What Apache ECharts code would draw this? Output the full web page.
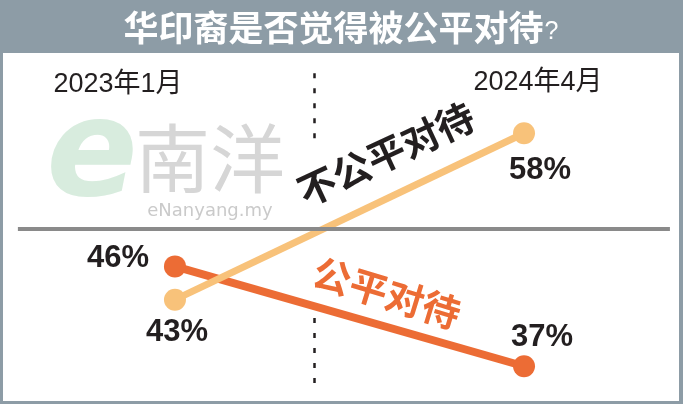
<!DOCTYPE html>
<html>
<head>
<meta charset="utf-8">
<script src="https://cdn.jsdelivr.net/npm/echarts@6/dist/echarts.min.js"></script>
<style>html,body{margin:0;padding:0;background:#8d9ca6;}#c{width:683px;height:404px;}</style>
</head>
<body>
<div id="c"></div>
<script>
const titleText = '华印裔是否觉得被公平对待';
const categories = ['2023年1月', '2024年4月'];
const monthIndex = [0, 15];
const seriesNames = ['不公平对待', '公平对待'];
const unfairValues = [43, 58];
const fairValues = [46, 37];

const chart = echarts.init(document.getElementById('c'), null, {renderer: 'canvas'});
const labelFont = "'Liberation Sans', Arial, sans-serif";
const cjkFont = "'Noto Sans CJK SC', sans-serif";
const mixFont = "'Liberation Sans', 'Noto Sans CJK SC', sans-serif";

function pts(vals) { return monthIndex.map((m, i) => [m, vals[i]]); }
function labelled(vals, offsets) {
  return pts(vals).map((p, i) => ({
    value: p,
    label: {show: true, position: 'inside', offset: offsets[i]}
  }));
}

const option = {
  backgroundColor: '#8d9ca6',
  animation: false,
  grid: {left: 3, right: 4, top: 53, bottom: 3, show: true, backgroundColor: '#ffffff', borderWidth: 0},
  xAxis: {type: 'value', min: -7.39, max: 21.66, show: false},
  yAxis: {type: 'value', min: 33.87, max: 65.23, show: false},
  graphic: [
    {type: 'text', x: 341, y: 28, z: 10, style: {
      text: '{a|' + titleText + '}{b|?}', align: 'center', verticalAlign: 'middle',
      rich: {
        a: {fontFamily: cjkFont, fontWeight: 'bold', fontSize: 35, fill: '#ffffff'},
        b: {fontFamily: "'Liberation Sans', sans-serif", fontWeight: 'normal', fontSize: 25, fill: '#ffffff', padding: [8, 0, 0, 1]}
      }
    }},
    // watermark
    {type: 'text', x: 92, y: 160, z: 1, style: {text: 'e', align: 'center', verticalAlign: 'middle', fontFamily: "'DejaVu Sans', sans-serif", fontStyle: 'italic', fontWeight: 'bold', fontSize: 135, fill: '#d8ecde'}},
    {type: 'text', x: 210, y: 158, z: 1, style: {text: '南洋', align: 'center', verticalAlign: 'middle', fontFamily: cjkFont, fontSize: 75, fill: '#d6d6d6'}},
    {type: 'text', x: 210, y: 211, z: 1, style: {text: 'eNanyang.my', align: 'center', verticalAlign: 'middle', fontFamily: "'DejaVu Sans', sans-serif", fontSize: 18, fill: '#cacaca'}},
    // date labels
    {type: 'text', x: 118, y: 85, z: 10, style: {text: categories[0], align: 'center', verticalAlign: 'middle', fontFamily: mixFont, fontSize: 27, fill: '#231f20'}},
    {type: 'text', x: 538, y: 83, z: 10, style: {text: categories[1], align: 'center', verticalAlign: 'middle', fontFamily: mixFont, fontSize: 27, fill: '#231f20'}},
    // series name labels
    {type: 'text', x: 386, y: 154, rotation: 25 * Math.PI / 180, z: 10, style: {text: seriesNames[0], align: 'center', verticalAlign: 'middle', fontFamily: cjkFont, fontWeight: 'bold', fontSize: 38, fill: '#231f20'}},
    {type: 'text', x: 387, y: 293, rotation: -17 * Math.PI / 180, z: 10, style: {text: seriesNames[1], align: 'center', verticalAlign: 'middle', fontFamily: cjkFont, fontWeight: 'bold', fontSize: 38, fill: '#ec6c35'}}
  ],
  series: [
    {
      type: 'line', name: 'decor', data: [], silent: true,
      markLine: {
        silent: true, symbol: 'none', label: {show: false},
        data: [
          [{coord: [-6.75, 49.37], lineStyle: {color: '#8a8a8a', width: 4, type: 'solid'}}, {coord: [21.27, 49.37]}],
          [{coord: [6, 63.4], lineStyle: {color: '#231f20', width: 2.5, type: [5, 10]}}, {coord: [6, 57.2]}],
          [{coord: [6, 41.35], lineStyle: {color: '#231f20', width: 2.5, type: [5, 10]}}, {coord: [6, 34.7]}]
        ]
      }
    },
    {
      type: 'line', name: seriesNames[1], z: 3,
      data: labelled(fairValues, [[-57, -8], [18, -29]]),
      symbol: 'circle', symbolSize: 22,
      lineStyle: {color: '#ec6c35', width: 8},
      itemStyle: {color: '#ec6c35'},
      label: {fontFamily: labelFont, fontWeight: 'bold', fontSize: 31, color: '#231f20', formatter: p => p.value[1] + '%'}
    },
    {
      type: 'line', name: seriesNames[0], z: 4,
      data: labelled(unfairValues, [[2, 33], [16, 37]]),
      symbol: 'circle', symbolSize: 22,
      lineStyle: {color: '#f8c27a', width: 7},
      itemStyle: {color: '#f8c27a'},
      label: {fontFamily: labelFont, fontWeight: 'bold', fontSize: 31, color: '#231f20', formatter: p => p.value[1] + '%'}
    }
  ]
};
chart.setOption(option);
</script>
</body>
</html>
